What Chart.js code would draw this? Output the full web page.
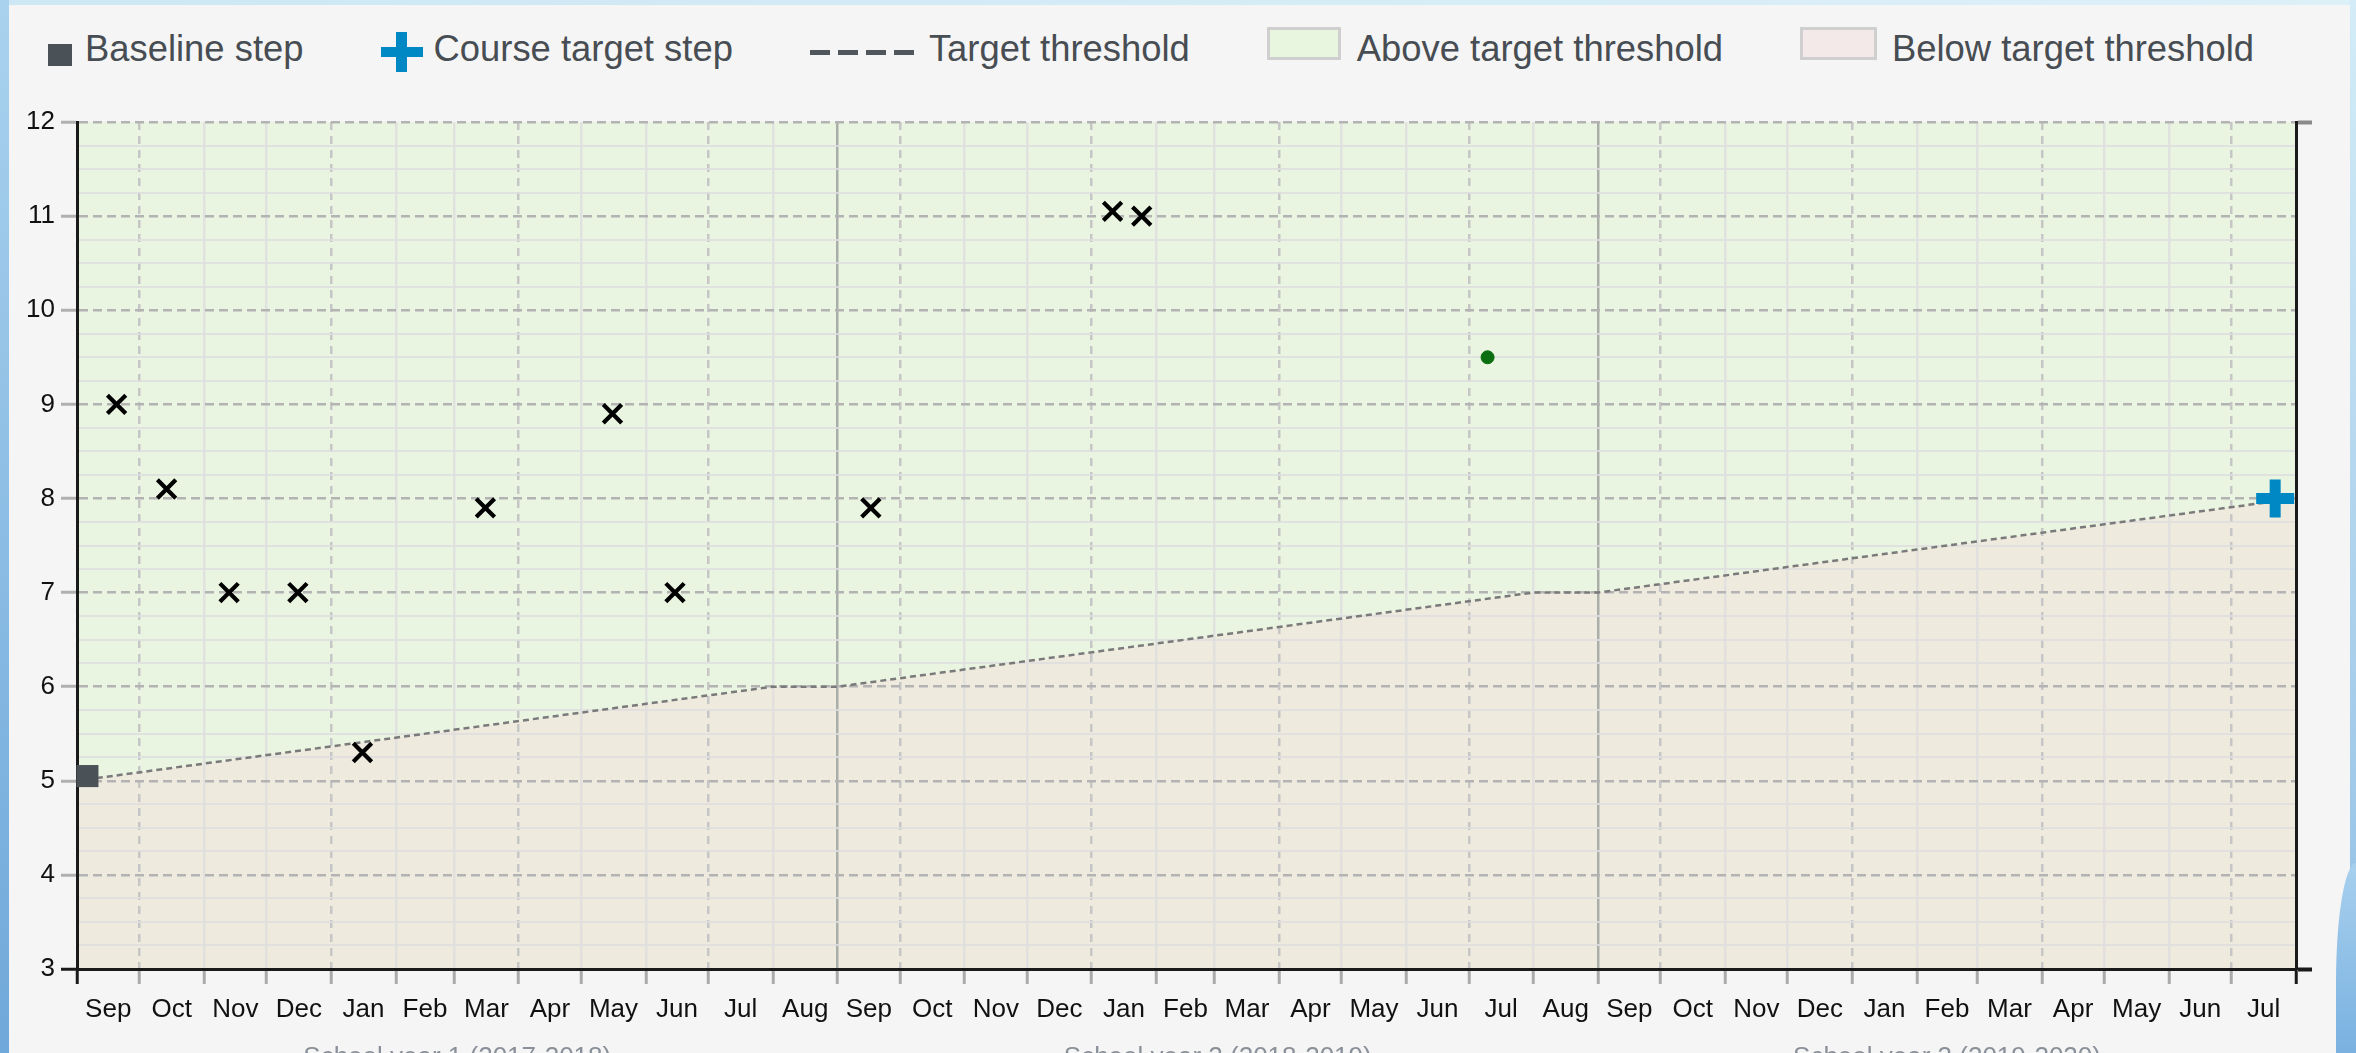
<!DOCTYPE html>
<html>
<head>
<meta charset="utf-8">
<script src="https://cdn.jsdelivr.net/npm/chart.js@4.4.0/dist/chart.umd.min.js"></script>
<style>
    html, body { margin: 0; padding: 0; }
    body {
        width: 2356px; height: 1053px; overflow: hidden; position: relative;
        background: #f5f5f5; font-family: "Liberation Sans", Arial, sans-serif;
    }
    #bordaTopo { position: absolute; left: 0; top: 0; width: 100%; height: 5px; background: linear-gradient(90deg, #cde7f5, #dcf0f8); }
    #bordaEsq { position: absolute; left: 0; top: 0; width: 9px; height: 100%; background: linear-gradient(180deg, #a9d2ee, #6fa8da); }
    #bordaDir { position: absolute; right: 0; top: 0; width: 6px; height: 100%; background: linear-gradient(180deg, #d3ecf7, #8fbde4); }
    #cantoDir { position: absolute; right: 0; bottom: 0; width: 20px; height: 190px; border-top-left-radius: 20px 120px; background: linear-gradient(180deg, #a8d0ee, #79b1e0); }
    #grafico1 { position: absolute; left: 0; top: 0; }

    /* legenda montada a partir dos datasets */
    #legenda { position: absolute; left: 48px; top: 31px; display: flex; align-items: flex-start; font-size: 36.4px; line-height: 36px; color: #474d52; white-space: nowrap; }
    .item { display: flex; align-items: flex-start; margin-right: 77px; }
    .quadrado { width: 24px; height: 22px; margin-top: 13px; margin-right: 13px; background: #4a5157; }
    .mais { width: 42px; height: 40px; margin-top: 1px; margin-right: 11px;
        background: linear-gradient(#0088c4, #0088c4) center / 11px 100% no-repeat,
                    linear-gradient(#0088c4, #0088c4) center / 100% 10px no-repeat; }
    .tracejado { width: 104px; height: 5px; margin-top: 19px; margin-right: 15px;
        background: repeating-linear-gradient(90deg, #50575c 0 20px, transparent 20px 28px); }
    .caixaVerde, .caixaRosa { height: 33px; box-sizing: border-box; border: 3px solid #cfcfcf; margin-top: -4px; }
    .caixaVerde { width: 74px; margin-right: 16px; background: #e9f6df; }
    .caixaRosa { width: 77px; margin-right: 15px; background: #f3e9e9; }
</style>
</head>
<body>
<div id="bordaTopo"></div>
<div id="bordaEsq"></div>
<div id="bordaDir"></div>
<div id="cantoDir"></div>
<div id="legenda"></div>
<canvas id="grafico1" width="2356" height="1100"></canvas>

<script>
// Rótulos dos eixos
const nomesMeses = ['Sep', 'Oct', 'Nov', 'Dec', 'Jan', 'Feb', 'Mar', 'Apr', 'May', 'Jun', 'Jul', 'Aug'];
const anosLetivos = ['School year 1 (2017-2018)', 'School year 2 (2018-2019)', 'School year 3 (2019-2020)'];
const iniciosAnos = ['2017-09-01', '2018-09-01', '2019-09-01', '2020-08-01'];

// Notas lançadas (marcadas com x)
const datasNotas = ['2017-09-20', '2017-10-14', '2017-11-13', '2017-12-16', '2018-01-16', '2018-03-16',
    '2018-05-16', '2018-06-15', '2018-09-17', '2019-01-11', '2019-01-25'];
const valoresNotas = [9, 8.1, 7, 7, 5.3, 7.9, 8.9, 7, 7.9, 11.05, 11];

// Linha de meta (limite)
const datasLimite = ['2017-09-01', '2018-08-01', '2018-09-01', '2019-08-01', '2019-09-01', '2020-08-01'];
const valoresLimite = [5, 6, 6, 7, 7, 8];

// Etapa inicial, meta do curso e ponto verde
const dataBase = '2017-09-06';
const valorBase = 5.05;
const dataMeta = '2020-07-22';
const valorMeta = 8;
const dataPonto = '2019-07-10';
const valorPonto = 9.5;

const ticksY = [3, 12];

// dias desde 1/set/2017
const inicio = Date.UTC(2017, 8, 1);
function dia(texto) {
    const [a, m, d] = texto.split('-').map(Number);
    return (Date.UTC(a, m - 1, d) - inicio) / 86400000;
}
const fim = dia(iniciosAnos[iniciosAnos.length - 1]);

// início de cada mês (linhas da grade) e meio de cada mês (rótulos)
const iniciosMeses = [];
for (let i = 0; i <= 35; i++) {
    iniciosMeses.push({ value: (Date.UTC(2017, 8 + i, 1) - inicio) / 86400000, mes: i % 12 });
}
const meiosMeses = [];
for (let i = 0; i < iniciosMeses.length - 1; i++) {
    meiosMeses.push({ value: (iniciosMeses[i].value + iniciosMeses[i + 1].value) / 2 });
}
const meiosAnos = [];
for (let i = 0; i < anosLetivos.length; i++) {
    meiosAnos.push({ value: (dia(iniciosAnos[i]) + dia(iniciosAnos[i + 1])) / 2 });
}

const pontos = (datas, valores) => datas.map((d, i) => ({ x: dia(d), y: valores[i] }));
const limite = pontos(datasLimite, valoresLimite);

Chart.defaults.font.family = '"Liberation Sans", Arial, sans-serif';

const fonteTicks = { size: 26 };
const inteiro = ctx => ctx.tick && Number.isInteger(ctx.tick.value);

const dados1 = {
    datasets: [{
        label: 'Baseline step',
        icone: 'quadrado',
        data: pontos([dataBase], [valorBase]),
        showLine: false,
        pointStyle: 'rect',
        pointRadius: 15.6,
        pointBackgroundColor: '#4a5157',
        pointBorderWidth: 0,
        clip: false
    }, {
        label: 'Course target step',
        icone: 'mais',
        data: pontos([dataMeta], [valorMeta]),
        showLine: false,
        pointStyle: 'cross',
        pointRadius: 19,
        pointBorderColor: '#0088c4',
        pointBorderWidth: 11,
        clip: false
    }, {
        label: 'Notas',
        data: pontos(datasNotas, valoresNotas),
        showLine: false,
        pointStyle: 'crossRot',
        pointRadius: 13,
        pointBorderColor: '#000',
        pointBorderWidth: 4.2
    }, {
        label: 'Avaliação',
        data: pontos([dataPonto], [valorPonto]),
        showLine: false,
        pointRadius: 6.5,
        pointBackgroundColor: '#0b6e10',
        pointBorderColor: '#0b6e10',
        pointBorderWidth: 1
    }, {
        label: 'Target threshold',
        icone: 'tracejado',
        data: limite,
        borderColor: '#7a7a7a',
        borderWidth: 2.5,
        borderDash: [6, 4],
        pointRadius: 0,
        fill: false
    }, {
        label: 'Above target threshold',
        icone: 'caixaVerde',
        data: limite,
        borderColor: 'rgba(0,0,0,0)',
        borderWidth: 0,
        pointRadius: 0,
        backgroundColor: '#eaf5e1',
        fill: 'end'
    }, {
        label: 'Below target threshold',
        icone: 'caixaRosa',
        data: limite,
        borderColor: 'rgba(0,0,0,0)',
        borderWidth: 0,
        pointRadius: 0,
        backgroundColor: '#eeeade',
        fill: 'start'
    }]
};

const config1 = {
    type: 'line',
    data: dados1,
    options: {
        responsive: false,
        devicePixelRatio: 1,
        animation: false,
        layout: { padding: { left: 0, right: 44, top: 122, bottom: 10 } },
        plugins: {
            legend: { display: false },
            tooltip: { enabled: false },
            filler: { drawTime: 'beforeDraw' } // preenchimento fica por baixo da grade
        },
        scales: {
            x: {
                type: 'linear', position: 'bottom', weight: 0, min: 0, max: fim,
                afterBuildTicks: s => { s.ticks = iniciosMeses.map(t => ({ ...t })); },
                afterFit: s => { s.height = 15; },
                ticks: { display: false },
                grid: {
                    color: ctx => {
                        const m = ctx.tick ? ctx.tick.mes : -1;
                        if (m === 0) return '#a9aea9';
                        if (m % 3 === 1) return '#c6c6c6';
                        return 'rgba(222,222,222,0.85)';
                    },
                    lineWidth: 2.5,
                    tickLength: 15,
                    tickWidth: 3,
                    tickColor: ctx => (ctx.index === 0 || ctx.index === iniciosMeses.length - 1) ? '#1a1a1a' : '#aaaaaa'
                },
                border: {
                    color: '#1a1a1a', width: 3,
                    dash: ctx => (ctx.tick && ctx.tick.mes % 3 === 1) ? [8, 6] : []
                }
            },
            xMeses: {
                type: 'linear', position: 'bottom', weight: 1, min: 0, max: fim,
                afterBuildTicks: s => { s.ticks = meiosMeses.map(t => ({ ...t })); },
                afterFit: s => { s.height = 46; },
                ticks: {
                    autoSkip: false, maxRotation: 0, padding: 2, color: '#111', font: fonteTicks,
                    callback: (v, i) => nomesMeses[i % 12]
                },
                grid: { display: false },
                border: { display: false }
            },
            xAnos: {
                type: 'linear', position: 'bottom', weight: 2, min: 0, max: fim,
                afterBuildTicks: s => { s.ticks = meiosAnos.map(t => ({ ...t })); },
                afterFit: s => { s.height = 60; },
                ticks: {
                    autoSkip: false, maxRotation: 0, padding: 4, color: '#8a9099', font: fonteTicks,
                    callback: (v, i) => anosLetivos[i]
                },
                grid: { display: false },
                border: { display: false }
            },
            y: {
                type: 'linear', position: 'left', min: 3, max: 12,
                afterBuildTicks: s => {
                    s.ticks = [];
                    for (let v = ticksY[0]; v <= ticksY[1]; v += 0.25) s.ticks.push({ value: v });
                },
                afterFit: s => { s.width = 77; },
                ticks: {
                    autoSkip: false, padding: 6, color: '#111', font: fonteTicks,
                    callback: v => Number.isInteger(v) ? v : ''
                },
                grid: {
                    color: ctx => inteiro(ctx) ? '#b3b3b3' : 'rgba(222,222,222,0.85)',
                    lineWidth: ctx => inteiro(ctx) ? 2.5 : 2,
                    tickLength: 16,
                    tickWidth: 3,
                    tickColor: ctx => {
                        if (!inteiro(ctx)) return 'rgba(0,0,0,0)';
                        return ctx.tick.value === ticksY[0] ? '#1a1a1a' : '#b0b0b0';
                    }
                },
                border: {
                    color: '#1a1a1a', width: 3,
                    dash: ctx => inteiro(ctx) ? [9, 5] : []
                }
            },
            yDir: {
                type: 'linear', position: 'right', min: 3, max: 12,
                afterBuildTicks: s => { s.ticks = ticksY.map(v => ({ value: v })); },
                afterFit: s => { s.width = 16; },
                ticks: { display: false },
                grid: {
                    drawOnChartArea: false, tickLength: 16, tickWidth: 4,
                    tickColor: ctx => (ctx.tick && ctx.tick.value === ticksY[0]) ? '#1a1a1a' : '#8a8a8a'
                },
                border: { color: '#1a1a1a', width: 3 }
            }
        }
    }
};

const grafico1 = new Chart(document.getElementById('grafico1'), config1);

// Legenda em HTML, um item por dataset que tem ícone
const legenda = document.getElementById('legenda');
grafico1.data.datasets.filter(d => d.icone).forEach(d => {
    const item = document.createElement('div');
    item.className = 'item';
    const icone = document.createElement('span');
    icone.className = d.icone;
    const texto = document.createElement('span');
    texto.textContent = d.label;
    item.append(icone, texto);
    legenda.append(item);
});
</script>
</body>
</html>
